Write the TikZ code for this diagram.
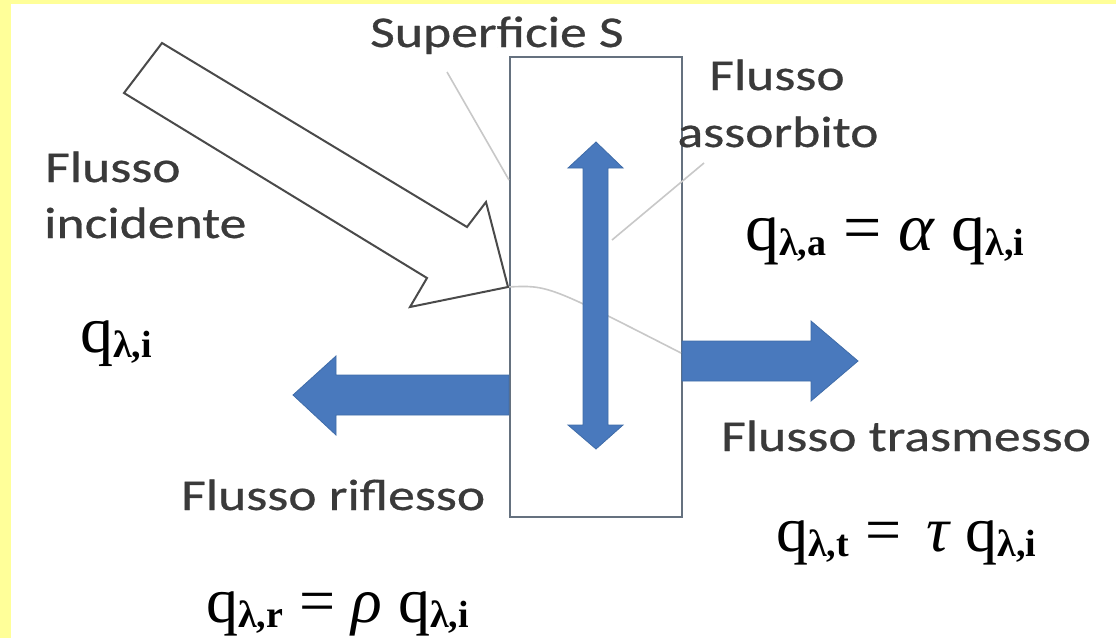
\documentclass[tikz,border=0pt]{standalone}
\usepackage{fontspec}
\setmainfont{Liberation Serif}
\newfontfamily\labfont[FakeStretch=1.22,FakeBold=0.6]{Carlito}
\definecolor{ylw}{HTML}{FFFF99}
\definecolor{labgray}{HTML}{3A3A3A}
\definecolor{leadgray}{HTML}{C8C8C8}
\definecolor{boxgray}{HTML}{65717F}
\definecolor{arrblue}{HTML}{4979BD}
\definecolor{arredge}{HTML}{3F6CA8}
\definecolor{hollowgray}{HTML}{4A4A4A}
\newcommand{\sbf}[1]{\lower5pt\hbox{\fontsize{38}{38}\selectfont\bfseries #1}}
\begin{document}
\begin{tikzpicture}[x=1pt,y=-1pt,
  lbl/.style={inner sep=0pt, text=labgray, font=\labfont\fontsize{44}{50}\selectfont},
  fml/.style={inner sep=0pt, text=black, anchor=base west},
  leader/.style={draw=leadgray, line width=1.6pt},
  bluearrow/.style={fill=arrblue, draw=arredge, line width=0.8pt, line join=miter},
  hollow/.style={fill=white, draw=hollowgray, line width=2pt, line join=miter},
  surfbox/.style={draw=boxgray, fill=white, line width=2.2pt, minimum width=172pt, minimum height=460pt, inner sep=0pt}]
\useasboundingbox (0,0) rectangle (1116,638);
% background
\fill[white] (0,0) rectangle (1116,638);
\fill[ylw] (0,0) rectangle (1116,4);
\fill[ylw] (0,0) rectangle (11,638);
% surface
\node[surfbox] (surf) at (596,287) {};
% text labels
\node[lbl, anchor=base west] (sup) at (370,47) {Superficie S};
\node[lbl, anchor=base] (ass1) at (777,90) {Flusso};
\node[lbl, anchor=base] (ass2) at (778,147) {assorbito};
\node[lbl, anchor=base west] (inc1) at (45,182) {Flusso};
\node[lbl, anchor=base west] (inc2) at (44,238) {incidente};
\node[lbl, anchor=base west] (rif) at (181,510) {Flusso riflesso};
\node[lbl, anchor=base west] (tra) at (721,451) {Flusso trasmesso};
% leader lines
\coordinate (l1a) at (447,72);
\coordinate (l1b) at (509,180);
\coordinate (l2a) at (704,163);
\coordinate (l2b) at (612,240);
\coordinate (tip) at (508,287);
\coordinate (l3b) at (681,353);
\draw[leader] (l1a) -- (l1b);
\draw[leader] (l2a) -- (l2b);
\draw[leader] (tip) .. controls (548,285) .. (l3b);
% incident hollow arrow
\draw[hollow] (162,43) -- (467,227) -- (486,202) -- (tip) -- (410,307) -- (427,278) -- (124,93) -- cycle;
% reflected arrow
\draw[bluearrow] (509,375) -- (336,375) -- (336,356) -- (293,395) -- (336,435) -- (336,415) -- (509,415) -- cycle;
% transmitted arrow
\draw[bluearrow] (682,341) -- (811,341) -- (811,321) -- (858,361) -- (811,401) -- (811,381) -- (682,381) -- cycle;
% absorbed double arrow
\draw[bluearrow] (596,142) -- (623,168) -- (608,168) -- (608,425) -- (623,425) -- (596,449) -- (568,425) -- (583,425) -- (583,168) -- (568,168) -- cycle;
% formulas
\node[fml] (fa) at (745,250) {\fontsize{68}{72}\selectfont q\sbf{λ,a} = {\itshape α} q\sbf{λ,i}};
\node[fml] (fi) at (80,352) {\fontsize{66}{70}\selectfont q\sbf{λ,i}};
\node[fml] (ft) at (776,551) {\fontsize{64}{68}\selectfont q\sbf{λ,t} =\hspace{0.4em}{\itshape τ} q\sbf{λ,i}};
\node[fml] (fr) at (206,622) {\fontsize{64}{68}\selectfont q\sbf{λ,r} = {\itshape ρ} q\sbf{λ,i}};
\end{tikzpicture}
\end{document}
